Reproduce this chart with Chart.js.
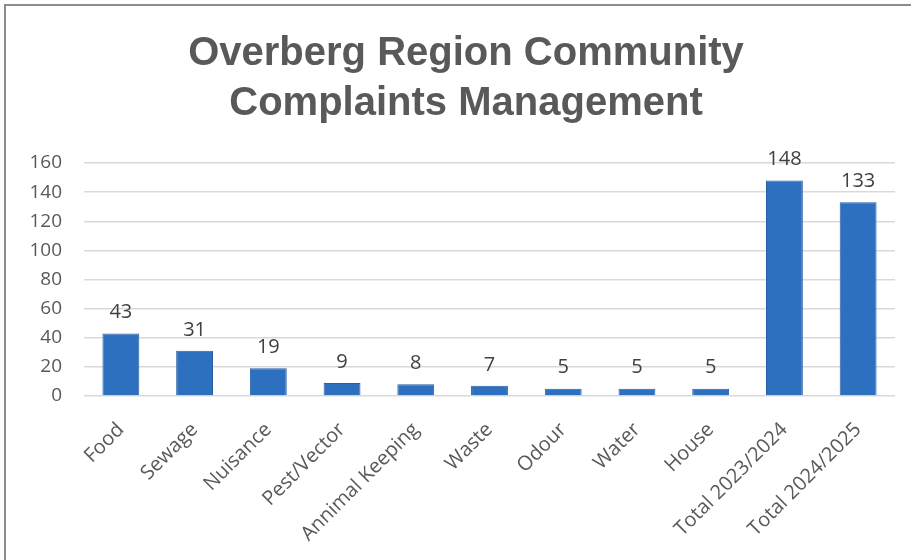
<!DOCTYPE html>
<html>
<head>
<meta charset="utf-8">
<script src="https://cdn.jsdelivr.net/npm/chart.js@4.4.1/dist/chart.umd.min.js"></script>
<style>
  html, body { margin: 0; padding: 0; background: #fff; overflow: hidden; }
  #frame { position: absolute; left: 4px; top: 4px; width: 920px; height: 600px; border: 2px solid #8c8c8c; box-sizing: border-box; }
  #wrap { position: absolute; left: 0; top: 0; width: 911px; height: 560px; }
</style>
</head>
<body>
<div id="frame"></div>
<div id="wrap"><canvas id="chartContainer"></canvas></div>
<script>
const categories = ['Food', 'Sewage', 'Nuisance', 'Pest/Vector', 'Annimal Keeping', 'Waste', 'Odour', 'Water', 'House', 'Total 2023/2024', 'Total 2024/2025'];
const complaints = [43, 31, 19, 9, 8, 7, 5, 5, 5, 148, 133];
const yTicks = [0, 20, 40, 60, 80, 100, 120, 140, 160];
const titleLines = ['Overberg Region Community', 'Complaints Management'];

const textGrey = '#595959';

// value labels above each bar
const barLabels = {
  id: 'barLabels',
  afterDatasetsDraw(chart) {
    const ctx = chart.ctx;
    const meta = chart.getDatasetMeta(0);
    ctx.save();
    ctx.font = '20px "Open Sans", sans-serif';
    ctx.fillStyle = '#404040';
    ctx.textAlign = 'center';
    ctx.textBaseline = 'bottom';
    meta.data.forEach((bar, i) => {
      ctx.fillText(String(complaints[i]), bar.x, bar.y - 11);
    });
    ctx.restore();
  }
};

// title sits centred on the outer frame, not on the plot, so draw it here
const frameTitle = {
  id: 'frameTitle',
  afterDraw(chart) {
    const ctx = chart.ctx;
    ctx.save();
    ctx.font = 'bold 40px "Liberation Sans", sans-serif';
    ctx.fillStyle = textGrey;
    ctx.textAlign = 'center';
    ctx.textBaseline = 'middle';
    titleLines.forEach((line, i) => {
      ctx.fillText(line, 466, 54 + i * 50);
    });
    ctx.restore();
  }
};

const chart = new Chart(document.getElementById('chartContainer'), {
  type: 'bar',
  data: {
    labels: categories,
    datasets: [{
      data: complaints,
      backgroundColor: '#2E70C0',
      borderColor: '#285FA3',
      borderWidth: 1,
      categoryPercentage: 1,
      barPercentage: 0.5
    }]
  },
  options: {
    responsive: true,
    maintainAspectRatio: false,
    animation: false,
    layout: { padding: { left: 0, right: 16, top: 163, bottom: 0 } },
    plugins: {
      legend: { display: false },
      tooltip: { enabled: false },
      title: { display: false }
    },
    scales: {
      y: {
        min: 0,
        max: 160,
        afterFit(scale) { scale.width = 84; },
        afterBuildTicks(scale) { scale.ticks = yTicks.map(v => ({ value: v })); },
        border: { display: false },
        grid: { color: '#d9d9d9', lineWidth: 1.5, drawTicks: false },
        ticks: {
          color: textGrey,
          padding: 22,
          font: { family: '"Open Sans", sans-serif', size: 19 }
        }
      },
      x: {
        afterFit(scale) { scale.height = 164; },
        border: { display: false },
        grid: { display: false },
        ticks: {
          color: textGrey,
          minRotation: 45,
          maxRotation: 45,
          autoSkip: false,
          padding: 14,
          font: { family: '"Open Sans", sans-serif', size: 20 }
        }
      }
    }
  },
  plugins: [barLabels, frameTitle]
});
</script>
</body>
</html>
